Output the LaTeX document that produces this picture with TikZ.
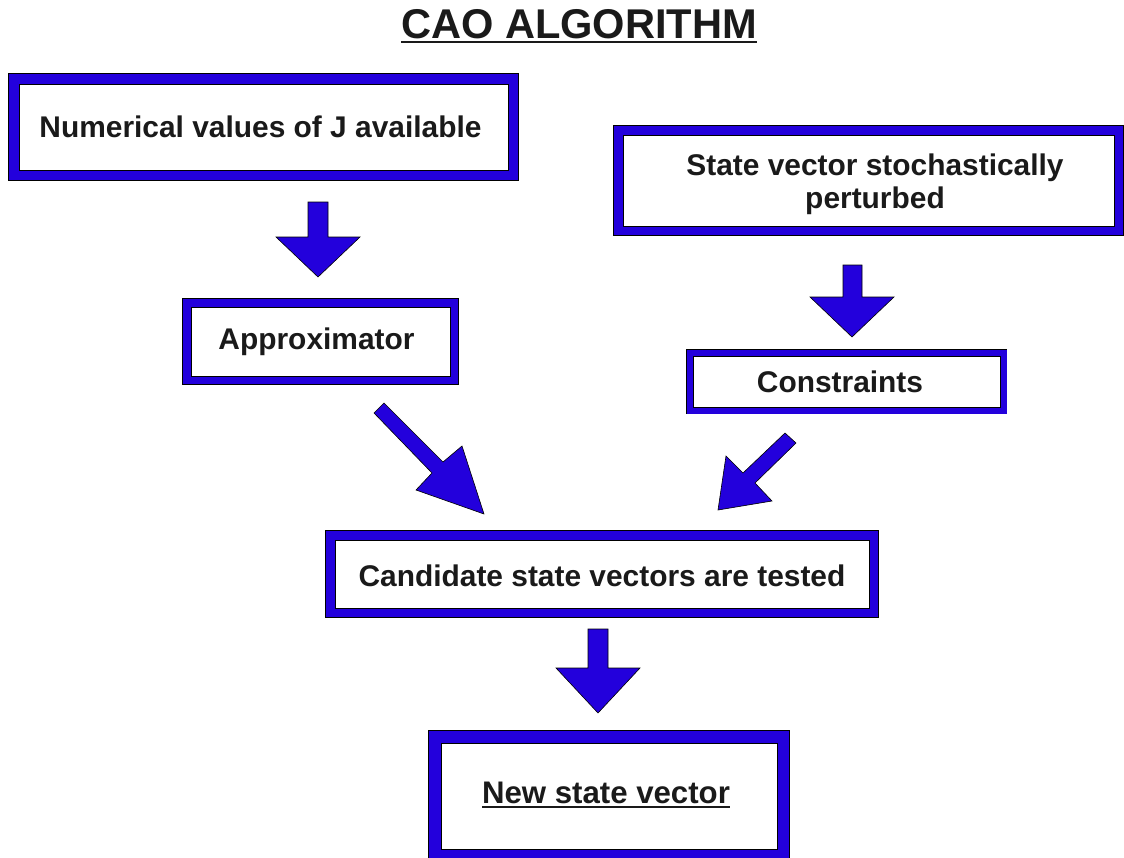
\documentclass[tikz,border=0pt]{standalone}
\usepackage{fontspec}
\setmainfont{Liberation Sans}
\definecolor{boxblue}{RGB}{35,0,220}
\definecolor{txt}{RGB}{26,26,26}
\newcommand\myul[2]{\vtop{\hbox{#2}\kern#1\hrule height 2pt}}
\tikzset{
  cbox/.style={draw=black, line width=0.7, fill=white, inner sep=0,
    preaction={draw=black, line width=2*#1+1.4},
    preaction={draw=boxblue, line width=2*#1}},
  btext/.style={text=txt, font=\bfseries\fontsize{29.9}{33}\selectfont, align=center, inner sep=0},
  blockarrow/.style={fill=boxblue, draw=black, line width=0.6, line join=miter},
}
\begin{document}
\begin{tikzpicture}[x=1pt,y=-1pt]
\useasboundingbox (0,0) rectangle (1124,857);
% title
\node[text=txt, font=\bfseries\fontsize{41.6}{45}\selectfont, anchor=base, inner sep=0] (title) at (579,38) {\myul{3pt}{CAO ALGORITHM}};
% boxes
\node[cbox=10, minimum width=489, minimum height=86] (num) at (263.5,127) {};
\node[cbox=9, minimum width=491, minimum height=91] (svp) at (868.5,180.5) {};
\node[cbox=8, minimum width=259, minimum height=69] (app) at (320.5,341.5) {};
\node[cbox=6.5, minimum width=307, minimum height=51] (con) at (846.5,381.5) {};
\node[cbox=9, minimum width=534, minimum height=68] (cand) at (602,574) {};
\node[cbox=12, minimum width=336, minimum height=106] (nsv) at (609,796) {};
% texts
\node[btext] (numt) at ([shift={(-3,0)}]num.center) {Numerical values of J available};
\node[btext] (svpt) at ([shift={(6.5,4)}]svp.center) {State vector stochastically\\perturbed};
\node[btext] (appt) at ([shift={(-4,0)}]app.center) {Approximator};
\node[btext] (cont) at ([shift={(-6.5,0)}]con.center) {Constraints};
\node[btext] (candt) at ([shift={(0,2)}]cand.center) {Candidate state vectors are tested};
\node[btext, font=\bfseries\fontsize{31.2}{35}\selectfont] (nsvt) at ([shift={(-3,-1)}]nsv.center) {\myul{3pt}{New state vector}};
% block arrows
\draw[blockarrow] (308,202) -- (328,202) -- (328,237) -- (360,237) -- (318,277) -- (276,237) -- (308,237) -- cycle;
\draw[blockarrow] (843,265) -- (862,265) -- (862,297) -- (894,297) -- (852,337) -- (810,297) -- (843,297) -- cycle;
\draw[blockarrow] (588,629) -- (608,629) -- (608,668) -- (640,668) -- (598,713) -- (556,668) -- (588,668) -- cycle;
\draw[blockarrow] (374,413) -- (384,403) -- (443,462) -- (462,446) -- (484,514) -- (416,490) -- (432,473) -- cycle;
\draw[blockarrow] (785,433) -- (796,443) -- (755,483) -- (772,501) -- (718,510) -- (726,456) -- (743,473) -- cycle;
\end{tikzpicture}
\end{document}
